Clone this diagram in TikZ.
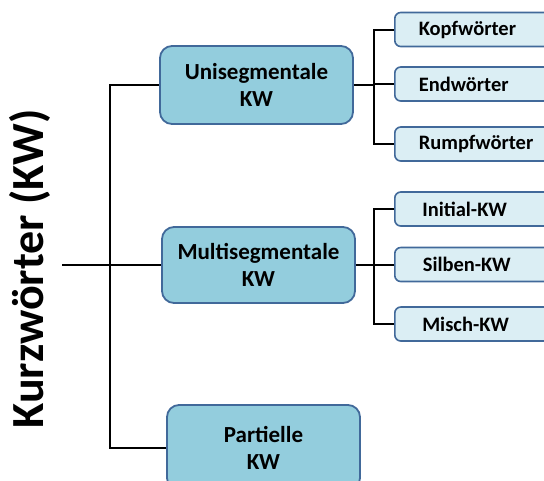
\documentclass[tikz,border=0pt]{standalone}
\usepackage{fontspec}
\setmainfont{Carlito}
\definecolor{boxfill}{HTML}{93CDDD}
\definecolor{leaffill}{HTML}{DBEEF4}
\definecolor{boxline}{HTML}{41699A}
\begin{document}
\begin{tikzpicture}[x=1pt,y=-1pt,
  mainbox/.style={draw=boxline, line width=1.8pt, fill=boxfill, rounded corners=12pt,
    minimum width=193pt, minimum height=#1, align=center, inner sep=0pt,
    font=\bfseries\fontsize{23}{27}\selectfont},
  mainbox/.default=78pt,
  leafbox/.style={draw=boxline, line width=1.6pt, fill=leaffill, rounded corners=6pt,
    minimum width=149pt, minimum height=34pt, anchor=west, text width=115pt,
    inner xsep=24pt, inner ysep=0pt, align=left,
    font=\bfseries\fontsize{20.5}{24}\selectfont},
  conn/.style={line width=2pt, black}]
\useasboundingbox (0,0) rectangle (544,480);
\clip (0,0) rectangle (544,480);

\node[rotate=90, anchor=base, font=\bfseries\fontsize{46}{50}\selectfont] (title) at (43,269) {Kurzwörter (KW)};
\coordinate (root) at (62,265);

\node[mainbox] (uni) at (256.5,85) {Unisegmentale\\KW};
\node[mainbox=76pt] (multi) at (258.5,265) {Multisegmentale\\KW};
\node[mainbox=85pt] (part) at (263.5,447.5) {Partielle\\KW};

\node[leafbox] (kopf) at (394,29.5) {Kopfwörter};
\node[leafbox] (end) at (394,84) {Endwörter};
\node[leafbox] (rumpf) at (394,144) {Rumpfwörter};
\node[leafbox, minimum width=170pt] (init) at (394,209) {Initial-KW};
\node[leafbox, minimum width=170pt, inner xsep=28pt] (silb) at (394,264.5) {Silben-KW};
\node[leafbox, minimum width=170pt] (misch) at (394,324) {Misch-KW};

\draw[conn] (root) -- (multi.west);
\draw[conn] (uni.west) -- ++(-49,0) |- (part.west);

\draw[conn] (uni.east) -- ++(21,0);
\draw[conn] (kopf.west) -- ++(-20,0) |- (rumpf.west);
\draw[conn] (end.west) -- ++(-20,0);

\draw[conn] (multi.east) -- ++(19,0);
\draw[conn] (init.west) -- ++(-20,0) |- (misch.west);
\draw[conn] (silb.west) -- ++(-20,0);
\end{tikzpicture}
\end{document}
